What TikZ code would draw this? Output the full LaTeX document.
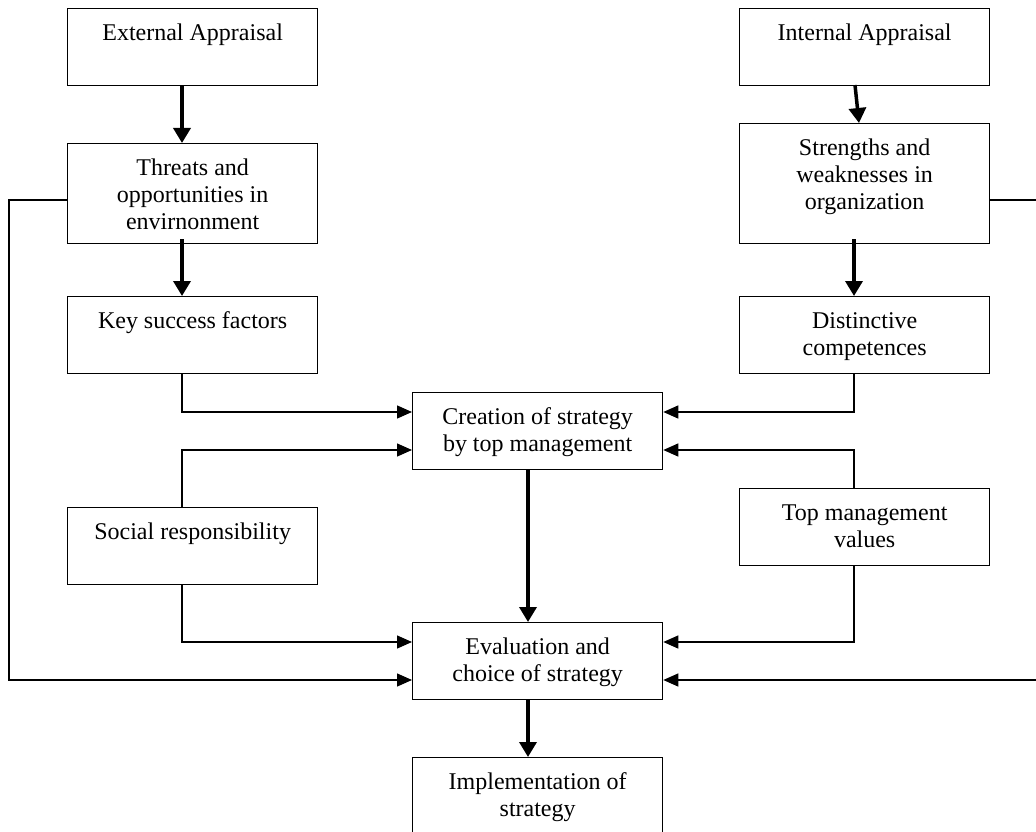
\documentclass[tikz,border=0pt]{standalone}
\usepackage{fontspec}
\setmainfont{Liberation Serif}
\usetikzlibrary{arrows.meta,calc}

% box of fixed size with its text set from the top
\newcommand{\topbox}[2]{\parbox[c][#1][t]{250pt}{\centering\rule{0pt}{32pt}#2}}

\tikzset{
  stage/.style={draw, line width=1.3pt, inner sep=0pt, anchor=north west,
    font=\fontsize{24}{27}\selectfont},
  flow/.style={line width=3.5pt, -{Triangle[length=15pt,width=17pt]}},
  feed/.style={line width=1.3pt, -{Triangle[length=15pt,width=13pt]}}
}

\begin{document}
\begin{tikzpicture}[x=1pt, y=-1pt]
\useasboundingbox (0,0) rectangle (1036,832);

% boxes
\node[stage] (ext)    at (67,8)    {\topbox{77pt}{External Appraisal}};
\node[stage] (int)    at (739,8)   {\topbox{77pt}{Internal Appraisal}};
\node[stage] (threat) at (67,143)  {\topbox{100pt}{Threats and\\opportunities in\\envirnonment}};
\node[stage] (str)    at (739,123) {\topbox{120pt}{Strengths and\\weaknesses in\\organization}};
\node[stage] (key)    at (67,296)  {\topbox{77pt}{Key success factors}};
\node[stage] (dist)   at (739,296) {\topbox{77pt}{Distinctive\\competences}};
\node[stage] (create) at (412,392) {\topbox{77pt}{Creation of strategy\\by top management}};
\node[stage] (social) at (67,507)  {\topbox{77pt}{Social responsibility}};
\node[stage] (topm)   at (739,488) {\topbox{77pt}{Top management\\values}};
\node[stage] (eval)   at (412,622) {\topbox{77pt}{Evaluation and\\choice of strategy}};
\node[stage] (impl)   at (412,757) {\topbox{110pt}{Implementation of\\strategy}};

% connector columns and rows
\coordinate (cL) at (182,0);
\coordinate (cC) at (528,0);
\coordinate (cR) at (854,0);
\coordinate (xl) at (9,0);
\coordinate (xr) at (1060,0);
\coordinate (ry) at (0,200);
\coordinate (cy1) at (0,412);
\coordinate (cy2) at (0,450);
\coordinate (ey1) at (0,642);
\coordinate (ey2) at (0,680);
\coordinate (intout) at (855,85);
\coordinate (strin) at (859,123);

% main flow
\draw[flow] (ext.south -| cL) -- (threat.north -| cL);
\draw[flow] (intout) -- (strin);
\draw[flow] ([yshift=5pt]threat.south -| cL) -- (key.north -| cL);
\draw[flow] ([yshift=5pt]str.south -| cR) -- (dist.north -| cR);
\draw[flow] (create.south -| cC) -- (eval.north -| cC);
\draw[flow] (eval.south -| cC) -- (impl.north -| cC);

% inputs to strategy creation
\draw[feed] (key.south -| cL) |- (create.west |- cy1);
\draw[feed] (social.north -| cL) |- (create.west |- cy2);
\draw[feed] (dist.south -| cR) |- (create.east |- cy1);
\draw[feed] (topm.north -| cR) |- (create.east |- cy2);

% inputs to evaluation
\draw[feed] (social.south -| cL) |- (eval.west |- ey1);
\draw[feed] (topm.south -| cR) |- (eval.east |- ey1);
\draw[feed] (threat.west |- ry) -- (xl |- ry) -- (xl |- ey2) -- (eval.west |- ey2);
\draw[feed] (str.east |- ry) -- (xr |- ry) -- (xr |- ey2) -- (eval.east |- ey2);
\end{tikzpicture}
\end{document}
